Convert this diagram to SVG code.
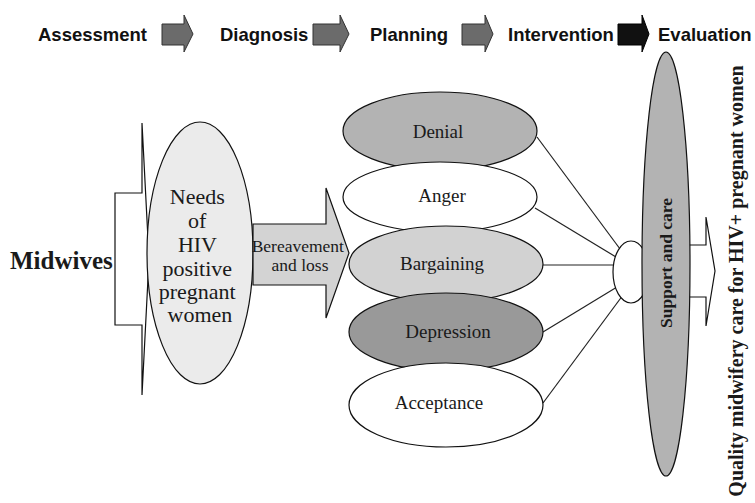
<svg xmlns="http://www.w3.org/2000/svg" width="755" height="503" viewBox="0 0 755 503">
<style>
.step{font-family:"Liberation Sans",Arial,sans-serif;font-weight:bold;font-size:18.5px;fill:#111}
.sarr{fill:#6b6b6b;stroke:#333;stroke-width:1}
.serif{font-family:"Liberation Serif","Times New Roman",serif;fill:#1a1a1a}
.stage{font-family:"Liberation Serif","Times New Roman",serif;fill:#1a1a1a;font-size:19px;text-anchor:middle}
.ol{stroke:#111;stroke-width:1.2}
.con{stroke:#222;stroke-width:1.2;fill:none}
</style>
<rect width="755" height="503" fill="#fff"/>
<g id="process">
<text class="step" x="38" y="41">Assessment</text>
<polygon class="sarr" points="162,24 184,24 184,15 193,34 184,52 184,45 162,45"/>
<text class="step" x="220" y="41">Diagnosis</text>
<polygon class="sarr" points="313,24 340,24 340,15 349,34 340,52 340,45 313,45"/>
<text class="step" x="370" y="41">Planning</text>
<polygon class="sarr" points="462,24 485,24 485,15 493,34 485,52 485,45 462,45"/>
<text class="step" x="508" y="41">Intervention</text>
<polygon points="618,24 642,24 642,15 649,34 642,52 642,45 618,45" fill="#111" stroke="#000"/>
<text class="step" x="658" y="41">Evaluation</text>
</g>
<g id="midwives">
<polygon points="115,193 142,193 142,123 149,259 142,395 142,325 115,325" fill="#fff" class="ol"/>
<text class="serif" x="10" y="269" font-size="25" font-weight="bold">Midwives</text>
</g>
<g id="needs">
<ellipse cx="200" cy="253" rx="53" ry="131" fill="#ebebeb" class="ol"/>
<text class="serif" font-size="22" text-anchor="middle">
<tspan x="200" y="204">Needs</tspan>
<tspan x="200" y="228">of</tspan>
<tspan x="200" y="252">HIV</tspan>
<tspan x="200" y="276">positive</tspan>
<tspan x="200" y="299">pregnant</tspan>
<tspan x="200" y="322">women</tspan>
</text>
</g>
<g id="bereavement">
<polygon points="253,224 326,224 326,188 349,253 326,318 326,285 253,285" fill="#d3d3d3" class="ol"/>
<text class="serif" font-size="17.5" text-anchor="middle">
<tspan x="300" y="252">Bereavement</tspan>
<tspan x="300" y="271">and loss</tspan>
</text>
</g>
<g id="connectors">
<line class="con" x1="537" y1="137" x2="623" y2="253"/>
<line class="con" x1="535" y1="208" x2="616" y2="257"/>
<line class="con" x1="543" y1="265" x2="613" y2="265"/>
<line class="con" x1="543" y1="332" x2="617" y2="287"/>
<line class="con" x1="543" y1="403" x2="623" y2="295"/>
</g>
<g id="denial">
<ellipse cx="440" cy="131" rx="97" ry="39" fill="#b3b3b3" class="ol"/>
<text class="stage" x="438" y="138">Denial</text>
</g>
<g id="anger">
<ellipse cx="440" cy="197" rx="97" ry="35" fill="#fff" class="ol"/>
<text class="stage" x="442" y="202">Anger</text>
</g>
<g id="bargaining">
<ellipse cx="446" cy="264" rx="97" ry="38" fill="#d2d2d2" class="ol"/>
<text class="stage" x="442" y="270">Bargaining</text>
</g>
<g id="depression">
<ellipse cx="446" cy="332" rx="97" ry="39" fill="#999" class="ol"/>
<text class="stage" x="448" y="338">Depression</text>
</g>
<g id="acceptance">
<ellipse cx="446" cy="405" rx="97" ry="42" fill="#fff" class="ol"/>
<text class="stage" x="439" y="409">Acceptance</text>
</g>
<g id="hub">
<ellipse cx="631" cy="272" rx="18" ry="31" fill="#fff" class="ol"/>
</g>
<g id="outcome-arrow">
<polygon points="680,245 706,245 706,217 715,271 706,326 706,297 680,297" fill="#fff" class="ol"/>
</g>
<g id="support">
<ellipse cx="666" cy="264" rx="24" ry="212" fill="#b3b3b3" class="ol"/>
<text class="serif" font-size="17.5" font-weight="bold" text-anchor="middle" transform="translate(672,263) rotate(-90)">Support and care</text>
</g>
<g id="quality">
<text class="serif" font-size="20" font-weight="bold" text-anchor="middle" transform="translate(743,281) rotate(-90)">Quality midwifery care for HIV+ pregnant women</text>
</g>
</svg>
